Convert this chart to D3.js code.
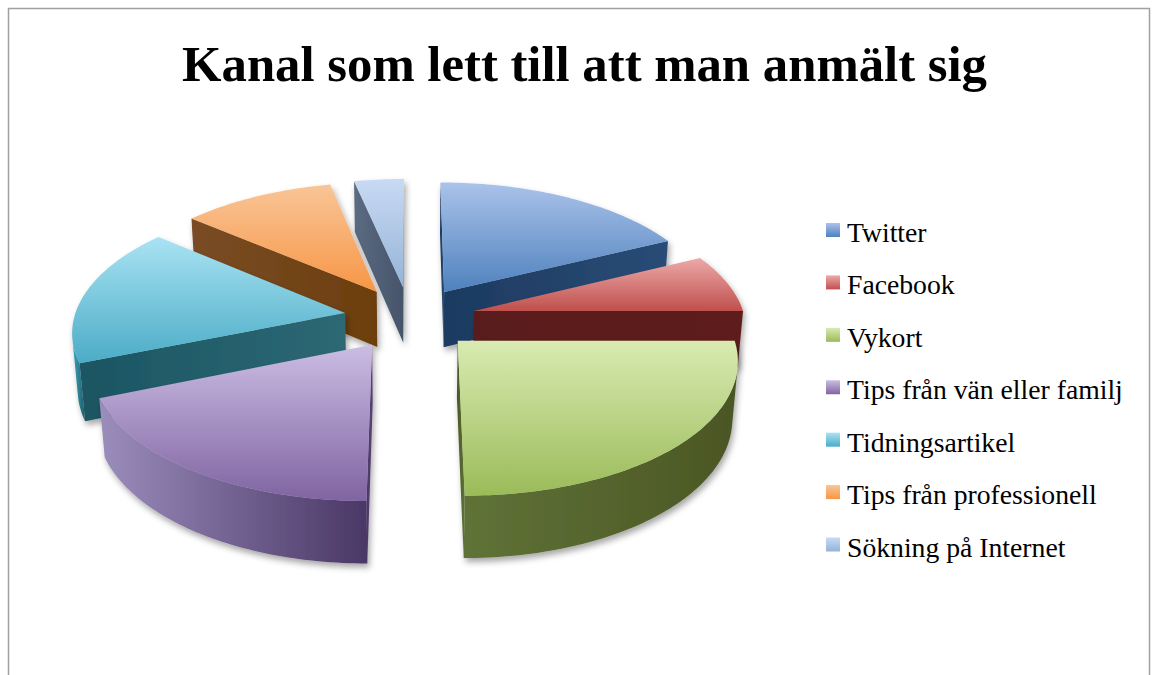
<!DOCTYPE html>
<html><head><meta charset="utf-8">
<script src="https://cdn.jsdelivr.net/npm/d3@7"></script>
<style>body{margin:0;background:#fff} svg{display:block}</style>
</head><body>
<svg id="c" width="1152" height="675"></svg>
<script>
const title = "Kanal som lett till att man anmält sig";
const categories = ["Twitter","Facebook","Vykort","Tips från vän eller familj","Tidningsartikel","Tips från professionell","Sökning på Internet"];
const values = [17.8, 7.2, 25, 18.9, 17.2, 10.5, 3.4];

// styles
const topLight = ["#aac3ea","#eca9a8","#d9ebb2","#cbbde3","#a9e3f3","#f9c597","#c8daf3"];
const topBase  = ["#4f81bd","#c0504d","#9bbb59","#8064a2","#4bacc6","#f79646","#95b3d7"];
const wallA    = ["#22436b","#5e1d1c","#5f7337","#9b8dbc","#3ea6c0","#7b4d26","#5a687e"];
const wallB    = ["#1d385c","#531817","#4b5624","#4a3766","#1d5866","#6c3e0e","#46546a"];
const radA     = ["#1d3a60","#591a1a","#4b5624","#4a3766","#1b5563","#7a4c25","#5b6b82"];
const radB     = ["#294c76","#5e1d1c","#5f7337","#5a4478","#2d6874","#6c3e0d","#46546a"];

const svg = d3.select("#c");
const defs = svg.append("defs");
svg.append("rect").attr("x",8.5).attr("y",8.5).attr("width",1141).attr("height",720)
  .attr("fill","none").attr("stroke","#a0a0a0").attr("stroke-width",1.5);

const f = defs.append("filter").attr("id","sh").attr("x","-20%").attr("y","-20%").attr("width","140%").attr("height","150%");
f.append("feDropShadow").attr("dx",2).attr("dy",4).attr("stdDeviation",3).attr("flood-color","#000").attr("flood-opacity",0.35);

function grad(id, c1, c2, vertical){
  const g = defs.append("linearGradient").attr("id",id)
    .attr("x1",0).attr("y1",0).attr("x2",vertical?0:1).attr("y2",vertical?1:0);
  g.append("stop").attr("offset","0%").attr("stop-color",c1);
  g.append("stop").attr("offset","100%").attr("stop-color",c2);
}

// projection
const A = 28.5*Math.PI/180, F = 1900, R = 271, TH = 65, EX = 66, CX = 410, CY = 318;
const ca = Math.cos(A), sa = Math.sin(A);
function proj(X,Y,Z){ const yc = Y*ca + Z*sa, d = Z*ca - Y*sa, p = F/(F+d); return [CX + X*p, CY - yc*p]; }
const cam = [0, F*sa, -F*ca];
function facing(nx, nz, px, pz){ return nx*(cam[0]-px) + nz*(cam[2]-pz) > 0; }

const arcs = d3.pie().sort(null).value(d=>d)(values);
const line = d3.line();

const slices = arcs.map((s,i)=>{
  const m = (s.startAngle + s.endAngle)/2;
  const ox = EX*Math.sin(m), oz = EX*Math.cos(m);
  const n = Math.max(8, Math.ceil((s.endAngle - s.startAngle)/0.02));
  const ang = d3.range(n+1).map(k => s.startAngle + (s.endAngle - s.startAngle)*k/n);
  const pt = (r,t,y) => proj(ox + r*Math.sin(t), y, oz + r*Math.cos(t));
  return {i, s, m, ox, oz, ang, pt, depth: oz + 0.5*R*Math.cos(m)};
});
slices.sort((a,b)=>b.depth - a.depth);

slices.forEach(sl=>{
  const {i, s, ox, oz, ang, pt} = sl;
  grad("top"+i, topLight[i], topBase[i], true);
  grad("wall"+i, wallA[i], wallB[i], false);
  grad("rad"+i, radA[i], radB[i], false);
  const g = svg.append("g").attr("filter","url(#sh)");
  const apexT = proj(ox,0,oz), apexB = proj(ox,-TH,oz);
  [[s.startAngle, -Math.cos(s.startAngle), Math.sin(s.startAngle)],
   [s.endAngle, Math.cos(s.endAngle), -Math.sin(s.endAngle)]].forEach(([t,nx,nz])=>{
    const px = ox + R/2*Math.sin(t), pz = oz + R/2*Math.cos(t);
    if (facing(nx,nz,px,pz))
      g.append("path").attr("d", line([apexT, pt(R,t,0), pt(R,t,-TH), apexB])+"Z").attr("fill","url(#rad"+i+")");
  });
  let run = [];
  const runs = [];
  for (let k=0;k<ang.length-1;k++){
    const t = (ang[k]+ang[k+1])/2;
    const vis = facing(Math.sin(t), Math.cos(t), ox+R*Math.sin(t), oz+R*Math.cos(t));
    if (vis){ if (!run.length) run.push(ang[k]); run.push(ang[k+1]); }
    else if (run.length){ runs.push(run); run=[]; }
  }
  if (run.length) runs.push(run);
  runs.forEach(r=>{
    const poly = r.map(t=>pt(R,t,0)).concat(r.slice().reverse().map(t=>pt(R,t,-TH)));
    g.append("path").attr("d", line(poly)+"Z").attr("fill","url(#wall"+i+")");
  });
  const topPoly = [apexT].concat(ang.map(t=>pt(R,t,0)));
  g.append("path").attr("d", line(topPoly)+"Z").attr("fill","url(#top"+i+")");
});

// title
const tt = svg.append("text").attr("x",584.5).attr("y",81).attr("text-anchor","middle")
  .attr("font-family","Liberation Serif, serif").attr("font-weight","bold").attr("font-size",47)
  .attr("fill","#000").text(title);
const tw = tt.node().getComputedTextLength();
tt.attr("font-size", 47*805/tw);

// legend
const ly = d3.scalePoint().domain(categories).range([230, 544.5]);
const lg = svg.append("g");
categories.forEach((c,i)=>{
  grad("leg"+i, topLight[i], topBase[i], true);
  lg.append("rect").attr("x",826).attr("y",ly(c)-7).attr("width",14).attr("height",14).attr("fill","url(#leg"+i+")");
});
const lt = lg.selectAll("text.l").data(categories).enter().append("text").attr("class","l")
  .attr("x",847).attr("y",d=>ly(d)+12)
  .attr("font-family","Liberation Serif, serif").attr("font-size",25).attr("fill","#000").text(d=>d);
const longest = lt.filter((d,i)=>i===3).node().getComputedTextLength();
lt.attr("font-size", 25*276/longest);
</script>
</body></html>
